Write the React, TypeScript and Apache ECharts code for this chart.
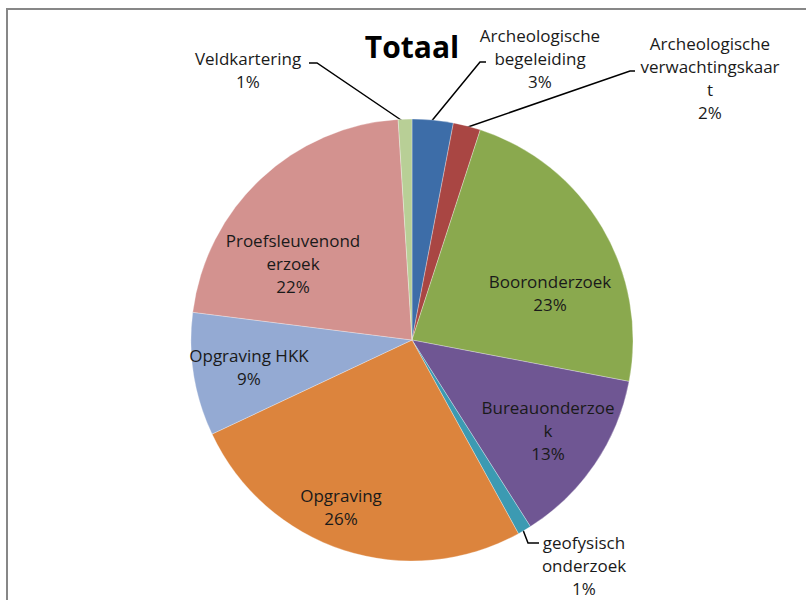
import React, { useEffect, useRef } from 'react';
import * as echarts from 'echarts';

const chartTitle = 'Totaal';
const categories = [
  'Archeologische begeleiding',
  'Archeologische verwachtingskaart',
  'Booronderzoek',
  'Bureauonderzoek',
  'geofysisch onderzoek',
  'Opgraving',
  'Opgraving HKK',
  'Proefsleuvenonderzoek',
  'Veldkartering',
];
const values = [3, 2, 23, 13, 1, 26, 9, 22, 1];
const labelTexts = [
  'Archeologische\nbegeleiding',
  'Archeologische\nverwachtingskaar\nt',
  'Booronderzoek',
  'Bureauonderzoe\nk',
  'geofysisch\nonderzoek',
  'Opgraving',
  'Opgraving HKK',
  'Proefsleuvenond\nerzoek',
  'Veldkartering',
];
const insideLabel = [false, false, true, true, false, true, true, true, false];

const colors = ['#3D6DA8', '#A94643', '#8AA94E', '#6F5693', '#3C9AB2', '#DC843D', '#94AAD3', '#D3928F', '#B8CF96'];

// label placement (px) and leader lines, as in the original
const labelCenters: [number, number][] = [
  [540, 58], [710, 78], [550, 293], [548, 430], [584, 565], [341, 507], [249, 367], [293, 263], [248, 70],
];
const leaderLines: ([number, number][] | null)[] = [
  [[430, 123], [480, 62], [486, 62]],
  [[465, 128], [630, 71], [635, 71]],
  null,
  null,
  [[523, 530], [528, 543], [539, 543]],
  null,
  null,
  null,
  [[404, 122], [317, 63], [309, 63]],
];

export default function App() {
  const ref = useRef<HTMLDivElement>(null);
  useEffect(() => {
    if (!ref.current) return;
    const chart = echarts.init(ref.current, undefined, { renderer: 'svg' });
    chart.setOption({
      animation: false,
      backgroundColor: '#ffffff',
      graphic: [
        {
          type: 'rect',
          z: -10,
          shape: { x: 7, y: 9, width: 840, height: 640 },
          style: { fill: 'none', stroke: '#878787', lineWidth: 2 },
        },
        {
          type: 'text',
          x: 412,
          y: 46,
          style: {
            text: chartTitle,
            font: 'bold 30px "Open Sans"',
            fill: '#000000',
            textAlign: 'center',
            textVerticalAlign: 'middle',
          },
        },
      ],
      series: [
        {
          type: 'pie',
          center: [412, 340],
          radius: 221,
          startAngle: 90,
          clockwise: true,
          avoidLabelOverlap: false,
          itemStyle: { borderColor: 'rgba(255,255,255,0.5)', borderWidth: 0.6 },
          label: {
            show: true,
            fontFamily: 'Open Sans',
            fontSize: 17,
            lineHeight: 23,
            color: '#1a1a1a',
            align: 'center',
            formatter: (p: any) => `${labelTexts[p.dataIndex]}\n${p.value}%`,
          },
          labelLine: { show: true, lineStyle: { color: '#000000', width: 1.5 } },
          emphasis: { disabled: true },
          labelLayout: (p: any) => {
            const i = p.dataIndex;
            const o: any = {
              x: labelCenters[i][0],
              y: labelCenters[i][1],
              align: 'center',
              verticalAlign: 'middle',
            };
            if (leaderLines[i]) o.labelLinePoints = leaderLines[i];
            return o;
          },
          data: categories.map((name, i) => ({
            name,
            value: values[i],
            itemStyle: { color: colors[i] },
            label: { position: insideLabel[i] ? 'inside' : 'outside' },
            labelLine: { show: !insideLabel[i] },
          })),
        },
      ],
    });
    return () => chart.dispose();
  }, []);
  return (
    <div
      ref={ref}
      style={{ position: 'fixed', left: 0, top: 0, width: 806, height: 600 }}
    />
  );
}
